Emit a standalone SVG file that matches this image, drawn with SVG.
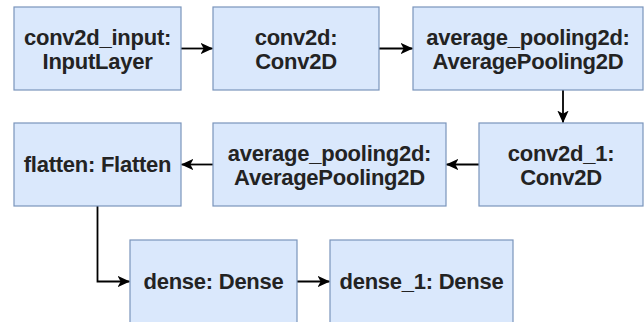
<svg xmlns="http://www.w3.org/2000/svg" width="644" height="322" viewBox="0 0 644 322">
<defs>
<style>
.box{fill:#dae8fc;stroke:#7a94bb;stroke-width:1.2}
.lbl{font-family:"Liberation Sans",Arial,sans-serif;font-size:22px;font-weight:bold;letter-spacing:-0.25px;fill:#232323;text-anchor:middle}
.edge{fill:none;stroke:#000;stroke-width:1.8}
</style>
<marker id="arr" viewBox="0 0 10 10" refX="9.5" refY="5" markerWidth="7" markerHeight="7" orient="auto" markerUnits="strokeWidth">
<path d="M0,0.5 L10,5 L0,9.5 L2.5,5 Z" fill="#000"/>
</marker>
</defs>
<rect width="644" height="322" fill="#fff"/>
<g id="connectors">
<path class="edge" d="M181,48.5 H212.5" marker-end="url(#arr)"/>
<path class="edge" d="M379,48.5 H412.5" marker-end="url(#arr)"/>
<path class="edge" d="M563,90 V122.5" marker-end="url(#arr)"/>
<path class="edge" d="M479,164.5 H446.5" marker-end="url(#arr)"/>
<path class="edge" d="M213,164.5 H181.5" marker-end="url(#arr)"/>
<path class="edge" d="M97.5,206 V281.5 H129.5" marker-end="url(#arr)"/>
<path class="edge" d="M297,281.5 H329.5" marker-end="url(#arr)"/>
</g>
<g id="conv2d_input">
<rect class="box" x="14" y="7" width="167" height="83"/>
<text class="lbl" x="97.5" y="44.5">conv2d_input:</text>
<text class="lbl" x="97.5" y="68.5">InputLayer</text>
</g>
<g id="conv2d">
<rect class="box" x="213" y="7" width="166" height="83"/>
<text class="lbl" x="296" y="44.5">conv2d:</text>
<text class="lbl" x="296" y="68.5">Conv2D</text>
</g>
<g id="average_pooling2d_a">
<rect class="box" x="413" y="7" width="230" height="83"/>
<text class="lbl" x="528" y="44.5">average_pooling2d:</text>
<text class="lbl" x="528" y="68.5">AveragePooling2D</text>
</g>
<g id="conv2d_1">
<rect class="box" x="479" y="123" width="164" height="83"/>
<text class="lbl" x="561" y="160.5">conv2d_1:</text>
<text class="lbl" x="561" y="184.5">Conv2D</text>
</g>
<g id="average_pooling2d_b">
<rect class="box" x="213" y="123" width="233" height="83"/>
<text class="lbl" x="329.5" y="160.5">average_pooling2d:</text>
<text class="lbl" x="329.5" y="184.5">AveragePooling2D</text>
</g>
<g id="flatten">
<rect class="box" x="14" y="123" width="167" height="83"/>
<text class="lbl" x="97.5" y="172.3">flatten: Flatten</text>
</g>
<g id="dense">
<rect class="box" x="130" y="240" width="167" height="83"/>
<text class="lbl" x="213.5" y="289.3">dense: Dense</text>
</g>
<g id="dense_1">
<rect class="box" x="330" y="240" width="183" height="83"/>
<text class="lbl" x="421.5" y="289.3">dense_1: Dense</text>
</g>
</svg>
